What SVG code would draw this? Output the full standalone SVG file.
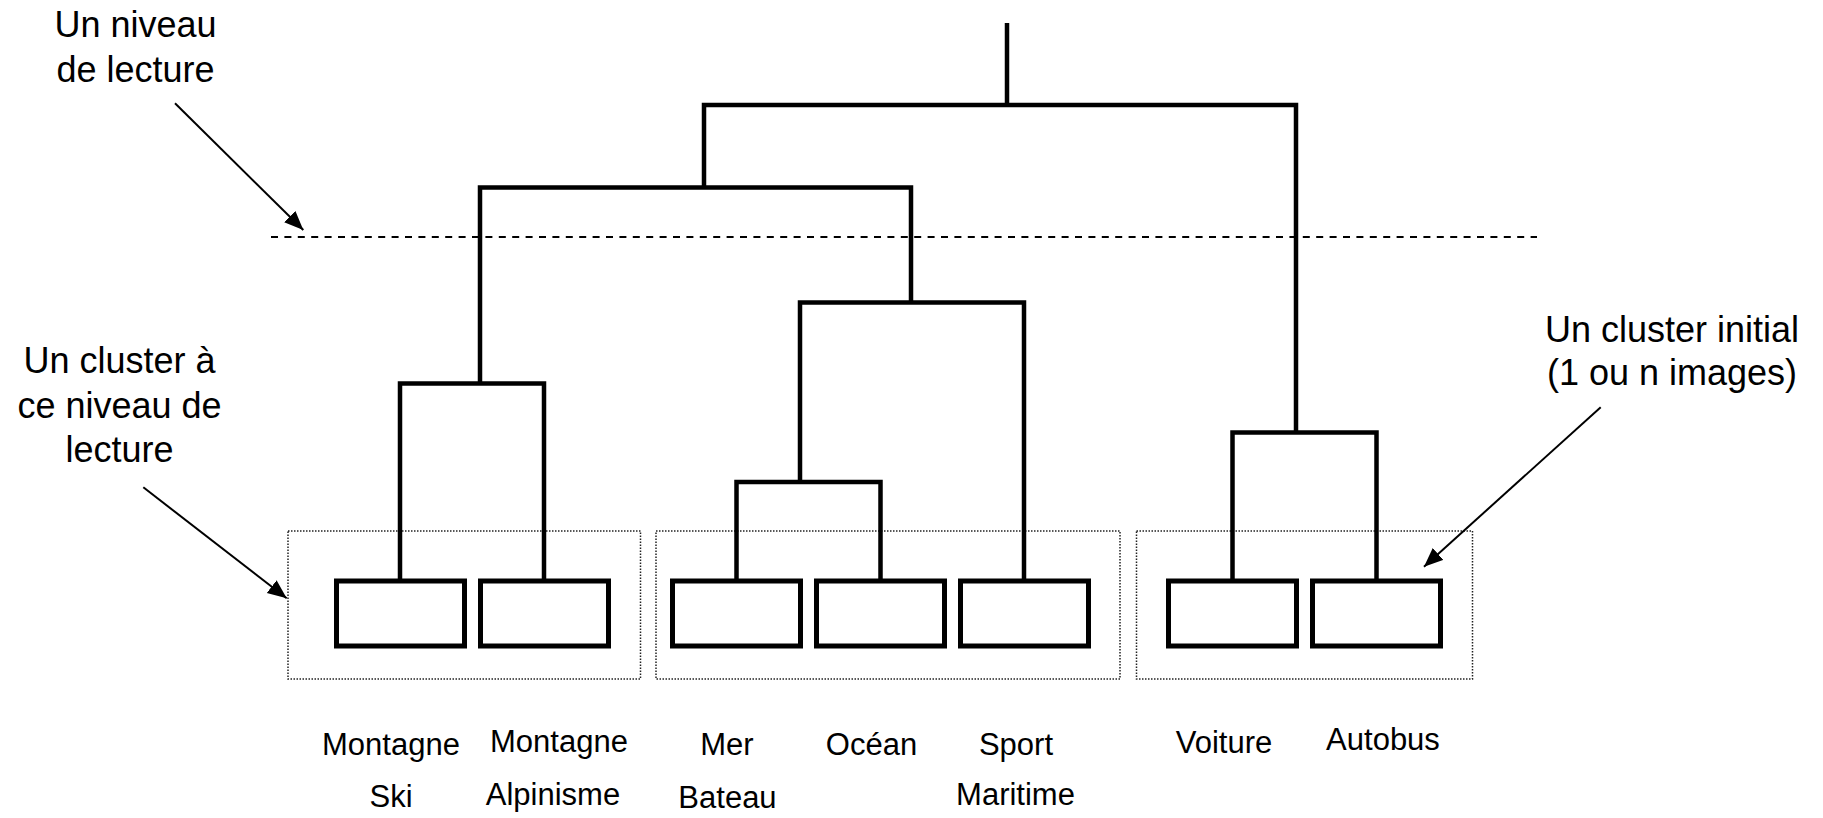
<svg xmlns="http://www.w3.org/2000/svg" width="1823" height="818" viewBox="0 0 1823 818">
  <style>
    .bg { fill: #ffffff; }
    .link { fill: none; stroke: #000; stroke-width: 4.5; stroke-linejoin: miter; stroke-linecap: butt; }
    .leaf { fill: #ffffff; stroke: #000; stroke-width: 5; }
    .group { fill: none; stroke: #222; stroke-width: 1.5; stroke-dasharray: 1.5 1.5; }
    .cut { fill: none; stroke: #000; stroke-width: 2; stroke-dasharray: 7 6.4; }
    .pointer { fill: none; stroke: #000; stroke-width: 2; }
    .note { font-family: "Liberation Sans", Arial, sans-serif; font-size: 36px; fill: #000; text-anchor: middle; }
    .label { font-family: "Liberation Sans", Arial, sans-serif; font-size: 31px; fill: #000; text-anchor: middle; }
  </style>
  <defs>
    <marker id="head" markerUnits="userSpaceOnUse" markerWidth="22" markerHeight="18" refX="19" refY="8" orient="auto">
      <path d="M0,0 L19,8 L0,16 Z" fill="#000"/>
    </marker>
  </defs>

  <rect class="bg" x="0" y="0" width="1823" height="818"/>

  <!-- cluster groups at the chosen reading level -->
  <g id="groups">
    <rect id="group-montagne" class="group" x="288" y="531" width="352.5" height="148"/>
    <rect id="group-mer" class="group" x="656" y="531" width="464" height="148"/>
    <rect id="group-transport" class="group" x="1136.5" y="531" width="336" height="148"/>
  </g>

  <!-- reading level cut -->
  <path id="cut-level" class="cut" d="M271,237 H1537"/>

  <!-- dendrogram links -->
  <g id="connectors">
    <path class="link" d="M1007,23 V105"/>
    <path class="link" d="M704,187.5 V105 H1296 V432.5"/>
    <path class="link" d="M480,383.5 V187.5 H911 V302.5"/>
    <path class="link" d="M400,581 V383.5 H544 V581"/>
    <path class="link" d="M800,482 V302.5 H1024 V581"/>
    <path class="link" d="M736.5,581 V482 H880.5 V581"/>
    <path class="link" d="M1232.5,581 V432.5 H1376.5 V581"/>
  </g>

  <!-- leaf clusters -->
  <g id="leaf-montagne-ski">
    <rect class="leaf" x="336.5" y="581" width="128" height="65"/>
    <text class="label" x="391" y="755">Montagne</text>
    <text class="label" x="391" y="806.5">Ski</text>
  </g>
  <g id="leaf-montagne-alpinisme">
    <rect class="leaf" x="480.5" y="581" width="128" height="65"/>
    <text class="label" x="559" y="752">Montagne</text>
    <text class="label" x="553" y="805">Alpinisme</text>
  </g>
  <g id="leaf-mer-bateau">
    <rect class="leaf" x="672.5" y="581" width="128" height="65"/>
    <text class="label" x="727" y="755">Mer</text>
    <text class="label" x="727.5" y="808">Bateau</text>
  </g>
  <g id="leaf-ocean">
    <rect class="leaf" x="816.5" y="581" width="128" height="65"/>
    <text class="label" x="871.5" y="755">Océan</text>
  </g>
  <g id="leaf-sport-maritime">
    <rect class="leaf" x="960.5" y="581" width="128" height="65"/>
    <text class="label" x="1016" y="755">Sport</text>
    <text class="label" x="1015.5" y="805">Maritime</text>
  </g>
  <g id="leaf-voiture">
    <rect class="leaf" x="1168.5" y="581" width="128" height="65"/>
    <text class="label" x="1224" y="753">Voiture</text>
  </g>
  <g id="leaf-autobus">
    <rect class="leaf" x="1312.5" y="581" width="128" height="65"/>
    <text class="label" x="1383" y="750">Autobus</text>
  </g>

  <!-- annotations -->
  <g id="note-level">
    <text class="note" x="135.5" y="36.7">Un niveau</text>
    <text class="note" x="135.5" y="81.7">de lecture</text>
    <path class="pointer" d="M175,103.3 L303.3,230" marker-end="url(#head)"/>
  </g>
  <g id="note-group">
    <text class="note" x="119.5" y="373.3">Un cluster à</text>
    <text class="note" x="119.5" y="418.3">ce niveau de</text>
    <text class="note" x="119.5" y="461.7">lecture</text>
    <path class="pointer" d="M143.3,487.3 L286.7,598.3" marker-end="url(#head)"/>
  </g>
  <g id="note-initial">
    <text class="note" x="1672" y="341.7">Un cluster initial</text>
    <text class="note" x="1672" y="385">(1 ou n images)</text>
    <path class="pointer" d="M1600.7,407.3 L1424,566.7" marker-end="url(#head)"/>
  </g>
</svg>
